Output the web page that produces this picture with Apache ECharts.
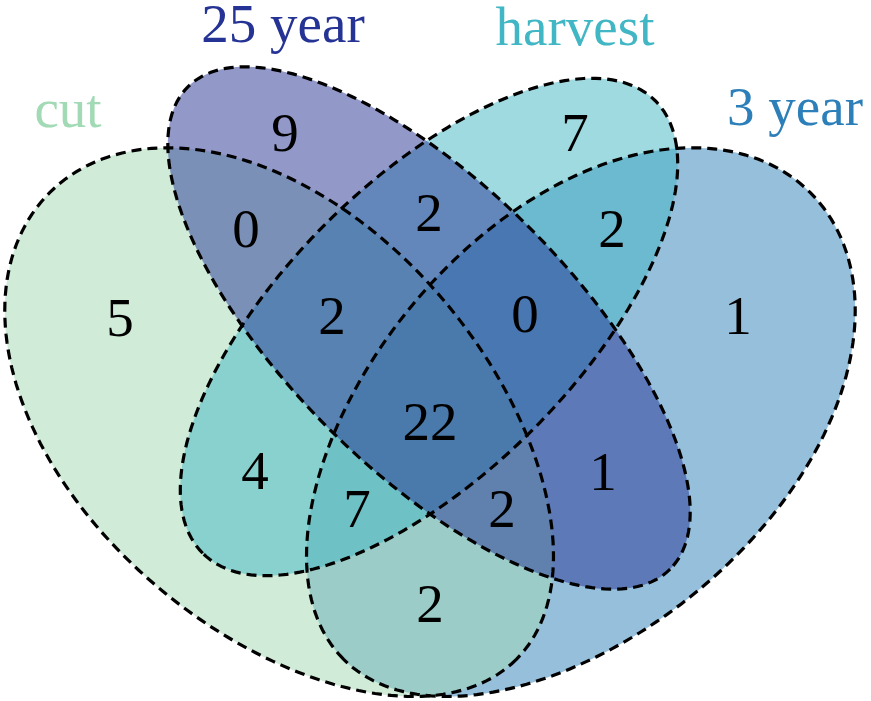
<!DOCTYPE html>
<html>
<head>
<meta charset="utf-8">
<script src="https://cdn.jsdelivr.net/npm/echarts@6/dist/echarts.min.js"></script>
<style>
  html, body { margin: 0; padding: 0; background: #fff; }
  #chart { width: 871px; height: 701px; }
</style>
</head>
<body>
<div id="chart"></div>
<script>
// the four sets
const setNames = ['cut', '25 year', 'harvest', '3 year'];
const setColors = ['#a1dab4', '#253494', '#41b6c4', '#2c7fb8'];

// how many items fall in each region
const regionSets = [
  'cut', '25 year', 'harvest', '3 year',
  'cut & 25 year', '25 year & harvest', 'harvest & 3 year',
  'cut & 25 year & harvest', '25 year & harvest & 3 year',
  'all four',
  'cut & harvest', '25 year & 3 year',
  'cut & harvest & 3 year', 'cut & 25 year & 3 year', 'cut & 3 year'
];
const regionCounts = [5, 9, 7, 1, 0, 2, 2, 2, 0, 22, 4, 1, 7, 2, 2];

// layout (pixel space of the 871x701 page, y going down)
const fillOrder = [3, 0, 2, 1]; // 3 year at the back, 25 year on top
const ellipseCx = [283, 429, 429, 577];
const ellipseCy = [426, 328, 327, 426];
const ellipseA = [330, 341, 320, 330];
const ellipseB = [204, 142, 146, 204];
const ellipseAngle = [45, 45, 135, 135];
const ellipseEgg = [0.06, 0, 0, 0.06]; // narrows the lower end a little

const regionX = [120, 285, 575, 738, 246, 429, 612, 332, 525, 430, 255, 603, 357, 502, 430];
const regionY = [322, 137, 137, 320, 233, 217, 233, 320, 318, 426, 475, 476, 513, 513, 608];

const nameX = [68, 283, 575, 795];
const nameY = [113, 28, 31, 111];

const FONT = '"Liberation Serif", "Times New Roman", "DejaVu Serif", serif';

const hexToRgba = (hex, a) => {
  const n = parseInt(hex.slice(1), 16);
  return `rgba(${(n >> 16) & 255},${(n >> 8) & 255},${n & 255},${a})`;
};

const ellipsePoints = (api, i) => {
  const pts = [];
  const th = ellipseAngle[i] * Math.PI / 180;
  for (let k = 0; k < 200; k++) {
    const t = (k / 200) * Math.PI * 2;
    const u = ellipseA[i] * Math.cos(t);
    const v = ellipseB[i] * Math.sin(t) * (1 - ellipseEgg[i] * Math.cos(t));
    const x = ellipseCx[i] + u * Math.cos(th) - v * Math.sin(th);
    const y = ellipseCy[i] + u * Math.sin(th) + v * Math.cos(th);
    pts.push(api.coord([x, y]));
  }
  return pts;
};

const ellipseData = fillOrder.map((i) => ({ name: setNames[i], value: [i] }));

const textItem = (api, text, color) => {
  const p = api.coord([api.value(0), api.value(1)]);
  return {
    type: 'text',
    x: p[0],
    y: p[1],
    style: {
      text,
      fill: color,
      fontFamily: FONT,
      fontSize: 55,
      align: 'center',
      verticalAlign: 'middle'
    }
  };
};

const chart = echarts.init(document.getElementById('chart'), null, { renderer: 'canvas' });

chart.setOption({
  animation: false,
  backgroundColor: '#fff',
  grid: { left: 0, right: 0, top: 0, bottom: 0 },
  xAxis: { type: 'value', min: 0, max: 871, show: false },
  yAxis: { type: 'value', min: 0, max: 701, inverse: true, show: false },
  series: [
    {
      // fills first
      type: 'custom',
      data: ellipseData,
      silent: true,
      renderItem: (params, api) => {
        const i = api.value(0);
        return {
          type: 'polygon',
          shape: { points: ellipsePoints(api, i) },
          style: { fill: hexToRgba(setColors[i], 0.5), stroke: null }
        };
      }
    },
    {
      // then the dashed outlines on top
      type: 'custom',
      data: ellipseData,
      silent: true,
      renderItem: (params, api) => {
        const i = api.value(0);
        return {
          type: 'polygon',
          shape: { points: ellipsePoints(api, i) },
          style: { fill: null, stroke: '#000', lineWidth: 3.2, lineDash: [10, 6] }
        };
      }
    },
    {
      // region counts
      type: 'custom',
      silent: true,
      data: regionCounts.map((c, i) => ({ name: regionSets[i], value: [regionX[i], regionY[i], c] })),
      renderItem: (params, api) => textItem(api, String(api.value(2)), '#000')
    },
    {
      // set names
      type: 'custom',
      silent: true,
      data: setNames.map((n, i) => ({ name: n, value: [nameX[i], nameY[i], i] })),
      renderItem: (params, api) => textItem(api, setNames[api.value(2)], setColors[api.value(2)])
    }
  ]
});
</script>
</body>
</html>
